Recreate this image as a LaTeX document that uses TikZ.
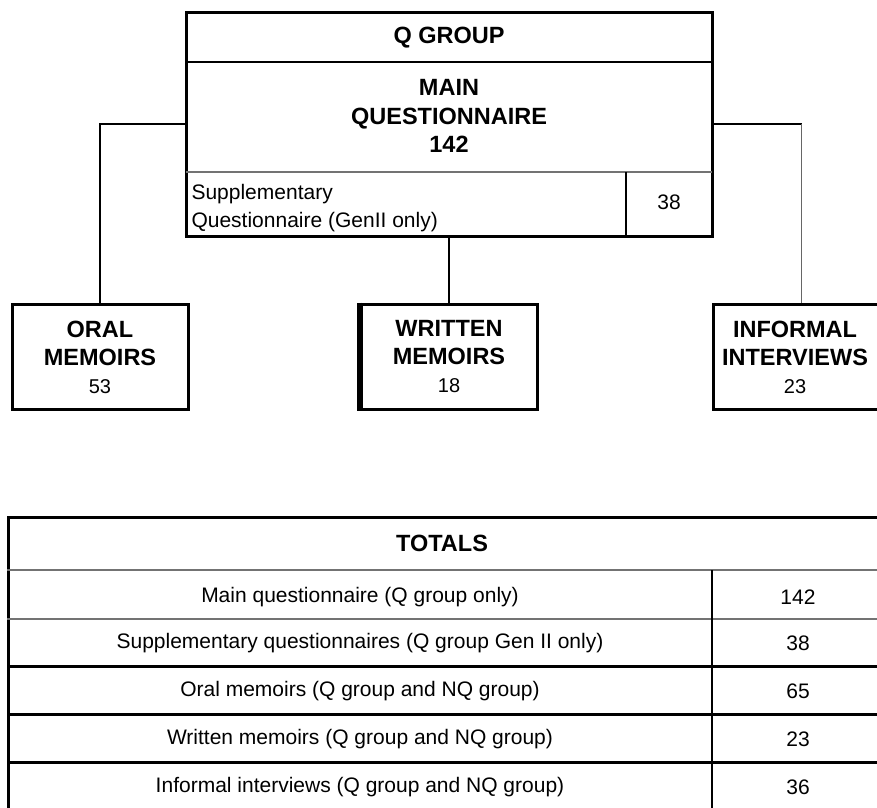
\documentclass[tikz,border=0pt]{standalone}
\usepackage{fontspec}
\setmainfont{Liberation Sans}
\newcommand\numtxt[1]{{\fontsize{20}{28}\selectfont\mdseries #1}}
\begin{document}
\begin{tikzpicture}[x=1pt,y=-1pt,
  box/.style={draw=black, line width=3pt, rectangle, inner sep=0pt},
  head/.style={font=\fontsize{23.5}{28}\selectfont\bfseries, align=center},
  txt/.style={font=\fontsize{21}{28}\selectfont, align=center},
  conn/.style={line width=2.5pt},
  thinconn/.style={line width=1pt, draw=black!60},
  grayrule/.style={line width=1.5pt, draw=black!55},
  blackrule/.style={line width=3pt, draw=black},
  divider/.style={line width=2.2pt, draw=black}]
\useasboundingbox (0,0) rectangle (877,807);
\clip (0,0) rectangle (877,807);
% top box
\node[box, minimum width=526pt, minimum height=224pt] (top) at (449,124) {};
\draw[line width=2.5pt] (186,62) -- (712,62);
\draw[grayrule] (186,172) -- (712,172);
\draw[divider] (626,172) -- (626,236);
\node[head] (qg) at (449,38) {Q GROUP};
\node[head, font=\fontsize{23.5}{28.5}\selectfont\bfseries] (mq) at (449,116) {MAIN\\QUESTIONNAIRE\\142};
\node[txt, align=left, anchor=west] (sq) at (188,208) {Supplementary\\Questionnaire (GenII only)};
\node[txt] (sqn) at (669,202) {38};
% bottom boxes
\node[box, minimum width=176pt, minimum height=105pt] (oral) at (100,356.5) {};
\node[head] (oralt) at (100,357) {ORAL\\MEMOIRS\\\numtxt{53}};
\node[box, minimum width=176pt, minimum height=105pt] (written) at (449,356.5) {};
\draw[line width=5pt] (written.north west) -- (written.south west);
\node[head] (writtent) at (449,357) {WRITTEN\\MEMOIRS\\\numtxt{18}};
\node[box, minimum width=176pt, minimum height=105pt] (inf) at (801,356.5) {};
\node[head] (inft) at (795,357) {INFORMAL\\INTERVIEWS\\\numtxt{23}};
% connectors
\draw[conn] (top.west) -| (oral.north);
\draw[line width=2pt] (top.south) -- (written.north);
\coordinate (rc) at (top.east -| inf.north);
\draw[conn] (top.east) -- ([xshift=1pt]rc);
\draw[thinconn] (rc) -- (inf.north);
% totals table
\node[box, minimum width=878pt, minimum height=300pt, anchor=north west] (tbl) at (7,516) {};
\draw[grayrule] (7,570) -- (890,570);
\draw[grayrule] (7,619) -- (890,619);
\draw[blackrule] (7,666) -- (890,666);
\draw[blackrule] (7,714) -- (890,714);
\draw[blackrule] (7,762) -- (890,762);
\draw[divider] (712,570) -- (712,816);
\node[head] (tt) at (442,543) {TOTALS};
\node[txt] (r1) at (360,597) {Main questionnaire (Q group only)};
\node[txt] (n1) at (798,597) {142};
\node[txt] (r2) at (360,643) {Supplementary questionnaires (Q group Gen II only)};
\node[txt] (n2) at (798,643) {38};
\node[txt] (r3) at (360,691) {Oral memoirs (Q group and NQ group)};
\node[txt] (n3) at (798,691) {65};
\node[txt] (r4) at (360,739) {Written memoirs (Q group and NQ group)};
\node[txt] (n4) at (798,739) {23};
\node[txt] (r5) at (360,787) {Informal interviews (Q group and NQ group)};
\node[txt] (n5) at (798,787) {36};
\end{tikzpicture}
\end{document}
